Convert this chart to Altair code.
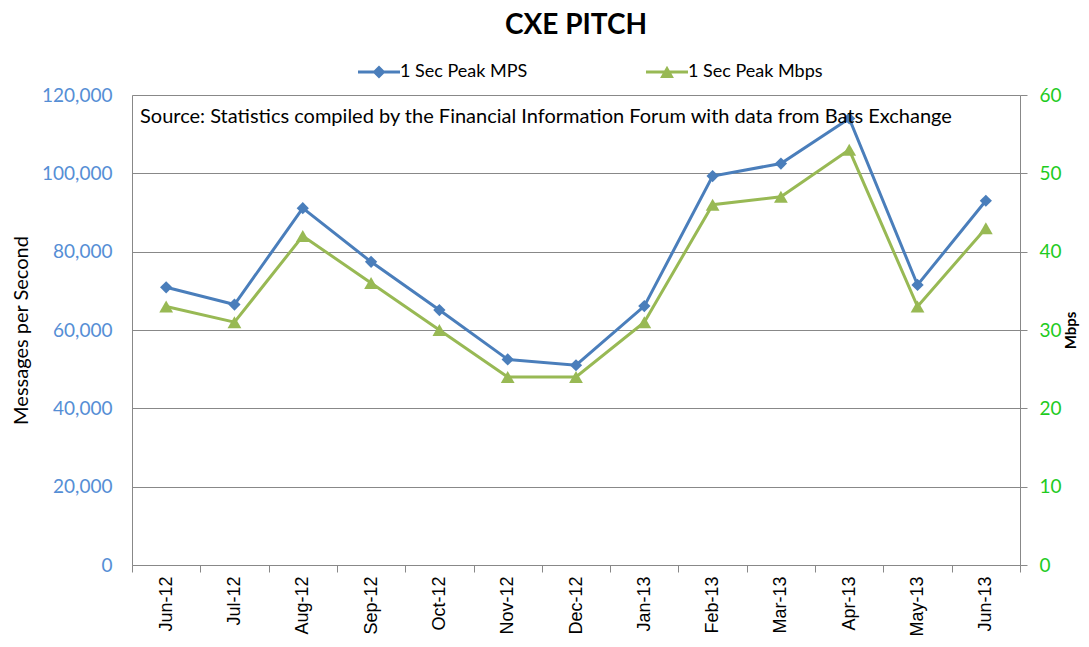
import altair as alt
import pandas as pd

months = ["Jun-12", "Jul-12", "Aug-12", "Sep-12", "Oct-12", "Nov-12", "Dec-12",
          "Jan-13", "Feb-13", "Mar-13", "Apr-13", "May-13", "Jun-13"]
mps = [70900, 66500, 91100, 77400, 65100, 52500, 51000, 66100, 99300, 102500, 114000, 71500, 93000]
mbps = [33, 31, 42, 36, 30, 24, 24, 31, 46, 47, 53, 33, 43]
series = ["1 Sec Peak MPS", "1 Sec Peak Mbps"]
left_ticks = [0, 20000, 40000, 60000, 80000, 100000, 120000]
right_ticks = [0, 10, 20, 30, 40, 50, 60]
source_text = ["Source: Statistics compiled by the Financial Information Forum with data from Bats Exchange"]

BLUE = "#4A7EBB"
GREEN = "#98B954"
GRID = "#888888"
CAL = "Lato"
ARIAL = "Liberation Sans"

df = pd.DataFrame({"month": months, "mps": mps, "mbps": mbps})

xenc = alt.X("month:N", sort=months, bandPosition=0.5,
             scale=alt.Scale(type="band", paddingInner=0, paddingOuter=0),
             axis=alt.Axis(title=None, labelAngle=270, labelFont=ARIAL, labelFontSize=18,
                           labelColor="#000000", labelPadding=4, tickBand="extent",
                           tickSize=7, tickColor=GRID, domainColor=GRID, grid=False,
                           labelAlign="right", labelBaseline="middle"))

mps_layer = alt.Chart(df).mark_line(
    color=BLUE, strokeWidth=3,
    point=alt.OverlayMarkDef(shape="diamond", size=150, filled=True, color=BLUE, opacity=1),
).encode(
    x=xenc,
    y=alt.Y("mps:Q", scale=alt.Scale(domain=[0, 120000], nice=False),
            axis=alt.Axis(orient="left", values=left_ticks, format=",.0f", title="Messages per Second",
                          titleFont=CAL, titleFontSize=20, titleFontWeight="normal", titleColor="#000000",
                          titlePadding=10, labelFont=CAL, labelFontSize=19, labelColor="#558ED5",
                          labelPadding=20, ticks=False, domainColor=GRID, grid=True,
                          gridColor=GRID, gridWidth=1)),
)

mbps_layer = alt.Chart(df).mark_line(
    color=GREEN, strokeWidth=3,
    point=alt.OverlayMarkDef(shape="triangle-up", size=190, filled=True, color=GREEN, opacity=1),
).encode(
    x=xenc,
    y=alt.Y("mbps:Q", scale=alt.Scale(domain=[0, 60], nice=False),
            axis=alt.Axis(orient="right", values=right_ticks, format=".0f", title="Mbps", titleAngle=270,
                          titleFont=CAL, titleFontSize=15, titleFontWeight="bold", titleColor="#000000",
                          titlePadding=17, labelFont=CAL, labelFontSize=19, labelColor="#1ECB1E",
                          labelPadding=12, tickSize=7, tickColor=GRID, domainColor=GRID, grid=False)),
)

blue_sym = "M-1,-0.07L1,-0.07L1,0.07L-1,0.07Z M0,-0.31L0.31,0L0,0.31L-0.31,0Z"
green_sym = "M-1,-0.07L1,-0.07L1,0.07L-1,0.07Z M0,-0.3L0.33,0.28L-0.33,0.28Z"

legend_opts = dict(title=None, orient="none", legendX=226, legendY=-44,
                   direction="horizontal", columns=2, columnPadding=118,
                   padding=0, symbolSize=1764, symbolStrokeWidth=0,
                   labelFont=CAL, labelFontSize=18, labelColor="#000000",
                   labelOffset=0, symbolOffset=0)

legend_df = pd.DataFrame({"series": series})
legend_layer = alt.Chart(legend_df).transform_filter("false").mark_point(
    filled=True, opacity=1, strokeWidth=0
).encode(
    color=alt.Color("series:N", scale=alt.Scale(domain=series, range=[BLUE, GREEN]),
                    legend=alt.Legend(**legend_opts)),
    shape=alt.Shape("series:N", scale=alt.Scale(domain=series, range=[blue_sym, green_sym]),
                    legend=alt.Legend(**legend_opts)),
)

text_layer = alt.Chart(pd.DataFrame({"t": source_text})).mark_text(
    align="left", baseline="middle", font=CAL, fontSize=20, color="#000000"
).encode(text="t:N", x=alt.value(8), y=alt.value(22))

chart = alt.layer(mps_layer, mbps_layer, legend_layer, text_layer).resolve_scale(
    y="independent"
).properties(
    width=888, height=470,
    title=alt.Title("CXE PITCH", font=CAL, fontSize=28, fontWeight="bold", color="#000000",
                    anchor="middle", offset=11),
    autosize=alt.AutoSizeParams(type="none"),
    padding={"left": 124, "top": 87, "right": 60, "bottom": 72},
).configure_view(stroke=None).configure(background="white")

chart.save("out.html", embed_options={"renderer": "svg", "actions": False})
